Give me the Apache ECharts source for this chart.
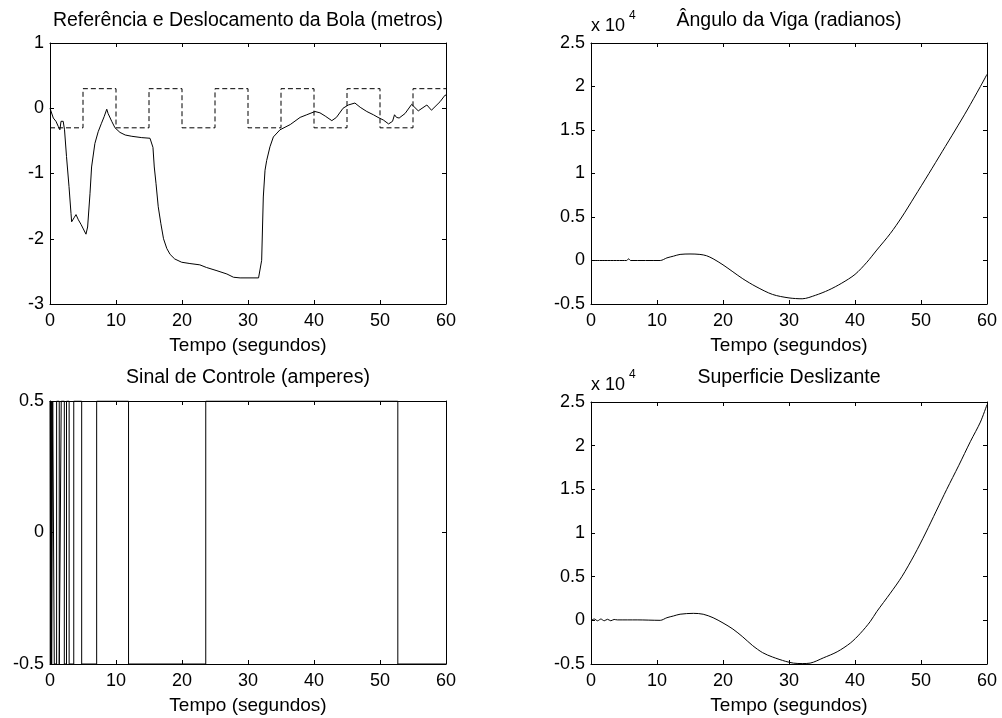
<!DOCTYPE html>
<html>
<head>
<meta charset="utf-8">
<title>Controle por modos deslizantes – bola e viga</title>
<script src="https://cdn.jsdelivr.net/npm/echarts@6/dist/echarts.min.js"></script>
<style>
  html, body { margin: 0; padding: 0; background: #fff; }
  #chart { width: 1002px; height: 718px; }
</style>
</head>
<body>
<div id="chart"></div>
<script>
// ---- Referência (degraus de ±0.3 m) ----
const refTimes  = [0, 5, 10, 15, 20, 25, 30, 35, 40, 45, 50, 55, 60];
const refLevels = [-0.3, 0.3, -0.3, 0.3, -0.3, 0.3, -0.3, 0.3, -0.3, 0.3, -0.3, 0.3, 0.3];

// ---- Deslocamento da bola (m) ----
const ballTimes = [0, 0.15, 0.5, 0.9, 1.1, 1.26, 1.5, 1.67, 2.0, 2.2, 2.5, 2.88, 3.18, 3.28, 3.7, 3.94,
  4.3, 4.7, 5.05, 5.45, 5.7, 6.06, 6.3, 6.8, 7.3, 7.8, 8.2, 8.6, 8.8, 9.35, 9.85, 10.6, 11.4, 12.4,
  13.9, 15.15, 15.4, 15.6, 15.8, 16.06, 16.4, 16.8, 17.2, 17.7, 18.2, 18.9, 19.95, 21.2, 22.7, 23.7,
  25.3, 26.8, 27.8, 28.8, 31.6, 31.75, 32.07, 32.32, 32.58, 32.83, 33.33, 33.84, 34.85, 36.4, 37.9,
  38.9, 40.15, 40.9, 41.7, 42.7, 43.4, 44.4, 45.2, 46.2, 47, 48, 49, 49.7, 50.5, 51.3, 51.9, 52.2,
  52.5, 52.9, 53.8, 54.8, 55.8, 57.1, 57.8, 59.1, 59.85, 60];
const ballPos = [0, 0.01, -0.15, -0.2, -0.17, -0.28, -0.33, -0.2, -0.2, -0.33, -0.74, -1.2, -1.61, -1.74, -1.67, -1.63,
  -1.71, -1.78, -1.85, -1.93, -1.82, -1.31, -0.9, -0.54, -0.36, -0.23, -0.13, -0.015, -0.08, -0.2, -0.3, -0.37, -0.41, -0.43,
  -0.45, -0.46, -0.43, -0.6, -0.9, -1.15, -1.51, -1.77, -2.0, -2.15, -2.24, -2.31, -2.36, -2.38, -2.4, -2.44,
  -2.49, -2.54, -2.59, -2.6, -2.6, -2.62, -2.33, -1.36, -0.95, -0.8, -0.59, -0.44, -0.33, -0.25, -0.14,
  -0.1, -0.05, -0.07, -0.12, -0.19, -0.14, 0, 0.05, 0.08, 0.015, -0.05, -0.1, -0.14, -0.18, -0.24, -0.2, -0.1,
  -0.14, -0.15, -0.08, 0.06, -0.04, 0.05, -0.03, 0.1, 0.2, 0.2];

// ---- Sinal de controle (A): instantes de comutação e nível após cada um ----
const ctrlTimes  = [0, 0.05, 0.1, 0.15, 0.2, 0.25, 0.41, 0.65, 1.0, 1.4, 1.7, 2.17, 2.5, 2.9, 3.6, 4.8, 7.07, 11.9, 23.6, 52.7, 60];
const ctrlLevels = [0.5, -0.5, 0.5, -0.5, 0.5, -0.5, 0.5, -0.5, 0.5, -0.5, 0.5, -0.5, 0.5, -0.5, 0.5, -0.5, 0.5, -0.5, 0.5, -0.5, -0.5];

// ---- Ângulo da viga (x 10^4 rad) ----
const angTimes = [0, 5.4, 5.7, 6.0, 10.5, 11.5, 12.5, 13.5, 15, 16.5, 17.5, 18.5, 20, 21.5, 23, 25, 27.5, 30,
  32, 34, 36, 38, 40, 41.8, 43.3, 45.35, 47.1, 49, 51.2, 53.2, 55.2, 57, 59, 60];
const angVals = [0, 0, 0.02, 0, 0, 0.03, 0.05, 0.07, 0.075, 0.07, 0.055, 0.02, -0.05, -0.13, -0.21, -0.3, -0.39, -0.43,
  -0.44, -0.4, -0.34, -0.26, -0.16, -0.02, 0.12, 0.31, 0.5, 0.73, 1.0, 1.25, 1.5, 1.73, 2.0, 2.14];

// ---- Superfície deslizante (x 10^4) ----
const surfTimes = [0, 0.5, 1, 1.5, 2, 2.5, 3, 3.5, 4, 7, 10.5, 11.5, 12.5, 13.5, 15.5, 17, 18.5, 20, 21.5, 23,
  24.5, 26, 27.5, 29.5, 30.7, 32, 33.2, 35.2, 37.3, 39.3, 40.8, 42.3, 43.3, 45.35, 47.1, 49, 50.7, 52.3,
  53.9, 55.7, 57.5, 59, 60];
const surfVals = [0, 0.015, -0.005, 0.015, -0.005, 0.012, -0.005, 0.01, 0.005, 0.005, 0, 0.03, 0.05, 0.07, 0.08, 0.07,
  0.03, -0.03, -0.1, -0.19, -0.29, -0.37, -0.42, -0.47, -0.49, -0.495, -0.49, -0.43, -0.36, -0.26, -0.15, -0.015,
  0.1, 0.31, 0.5, 0.75, 1.0, 1.25, 1.5, 1.77, 2.05, 2.27, 2.47];

const titles = ['Referência e Deslocamento da Bola (metros)', 'Ângulo da Viga (radianos)',
                'Sinal de Controle (amperes)', 'Superficie Deslizante'];
const xLabel = 'Tempo (segundos)';

const FONT = "'Liberation Sans', Arial, Helvetica, sans-serif";

const grids = [
  { left: 50,  top: 43,  width: 396, height: 261 },
  { left: 591, top: 43,  width: 396, height: 261 },
  { left: 50,  top: 401, width: 396, height: 263 },
  { left: 591, top: 402, width: 396, height: 262 }
];
const yRanges = [
  { min: -3,   max: 1,   interval: 1 },
  { min: -0.5, max: 2.5, interval: 0.5 },
  { min: -0.5, max: 0.5, interval: 0.5 },
  { min: -0.5, max: 2.5, interval: 0.5 }
];

const pairs = (xs, ys) => xs.map((x, i) => [x, ys[i]]);

const lineAxis = { show: true, onZero: false, lineStyle: { color: '#000', width: 1 } };
const tick = { show: true, inside: true, length: 4, lineStyle: { color: '#000', width: 1 } };
const labelStyle = { color: '#000', fontFamily: FONT, fontSize: 18 };

const xAxes = [], yAxes = [];
grids.forEach((g, i) => {
  // bottom axis with labels, top axis as frame with ticks
  xAxes.push({
    type: 'value', gridIndex: i, position: 'bottom', min: 0, max: 60, interval: 10,
    axisLine: lineAxis, axisTick: tick, splitLine: { show: false },
    axisLabel: Object.assign({ margin: 8 }, labelStyle),
    name: xLabel, nameLocation: 'middle', nameGap: 32,
    nameTextStyle: { color: '#000', fontFamily: FONT, fontSize: 19 }
  });
  xAxes.push({
    type: 'value', gridIndex: i, position: 'top', min: 0, max: 60, interval: 10,
    axisLine: lineAxis, axisTick: tick, splitLine: { show: false }, axisLabel: { show: false }
  });
  const r = yRanges[i];
  yAxes.push({
    type: 'value', gridIndex: i, position: 'left', min: r.min, max: r.max, interval: r.interval,
    axisLine: lineAxis, axisTick: tick, splitLine: { show: false },
    axisLabel: Object.assign({ margin: 6 }, labelStyle)
  });
  yAxes.push({
    type: 'value', gridIndex: i, position: 'right', min: r.min, max: r.max, interval: r.interval,
    axisLine: lineAxis, axisTick: tick, splitLine: { show: false }, axisLabel: { show: false }
  });
});

const baseLine = (i, data, extra) => Object.assign({
  type: 'line', xAxisIndex: 2 * i, yAxisIndex: 2 * i, data: data,
  showSymbol: false, symbol: 'none', animation: false, silent: true,
  lineStyle: { color: '#000', width: 1 }
}, extra || {});

const option = {
  backgroundColor: '#fff',
  animation: false,
  title: grids.map((g, i) => ({
    text: titles[i],
    left: g.left + g.width / 2,
    top: i < 2 ? 11 : 368,
    textAlign: 'center',
    padding: 0,
    textStyle: { color: '#000', fontFamily: FONT, fontSize: 19.5, fontWeight: 'normal' }
  })),
  grid: grids,
  xAxis: xAxes,
  yAxis: yAxes,
  graphic: [
    { type: 'text', left: 591, top: 17, style: { text: 'x 10', font: '18px ' + FONT, fill: '#000' } },
    { type: 'text', left: 629, top: 10, style: { text: '4', font: '12px ' + FONT, fill: '#000' } },
    { type: 'text', left: 591, top: 376, style: { text: 'x 10', font: '18px ' + FONT, fill: '#000' } },
    { type: 'text', left: 629, top: 369, style: { text: '4', font: '12px ' + FONT, fill: '#000' } }
  ],
  series: [
    baseLine(0, pairs(refTimes, refLevels), { step: 'end', lineStyle: { color: '#000', width: 1, type: [5, 3] } }),
    baseLine(0, pairs(ballTimes, ballPos)),
    baseLine(1, pairs(angTimes, angVals), { smooth: 0.3 }),
    baseLine(2, pairs(ctrlTimes, ctrlLevels), { step: 'end' }),
    baseLine(3, pairs(surfTimes, surfVals), { smooth: 0.3 })
  ]
};

const chart = echarts.init(document.getElementById('chart'), null, { renderer: 'canvas' });
chart.setOption(option);
</script>
</body>
</html>
